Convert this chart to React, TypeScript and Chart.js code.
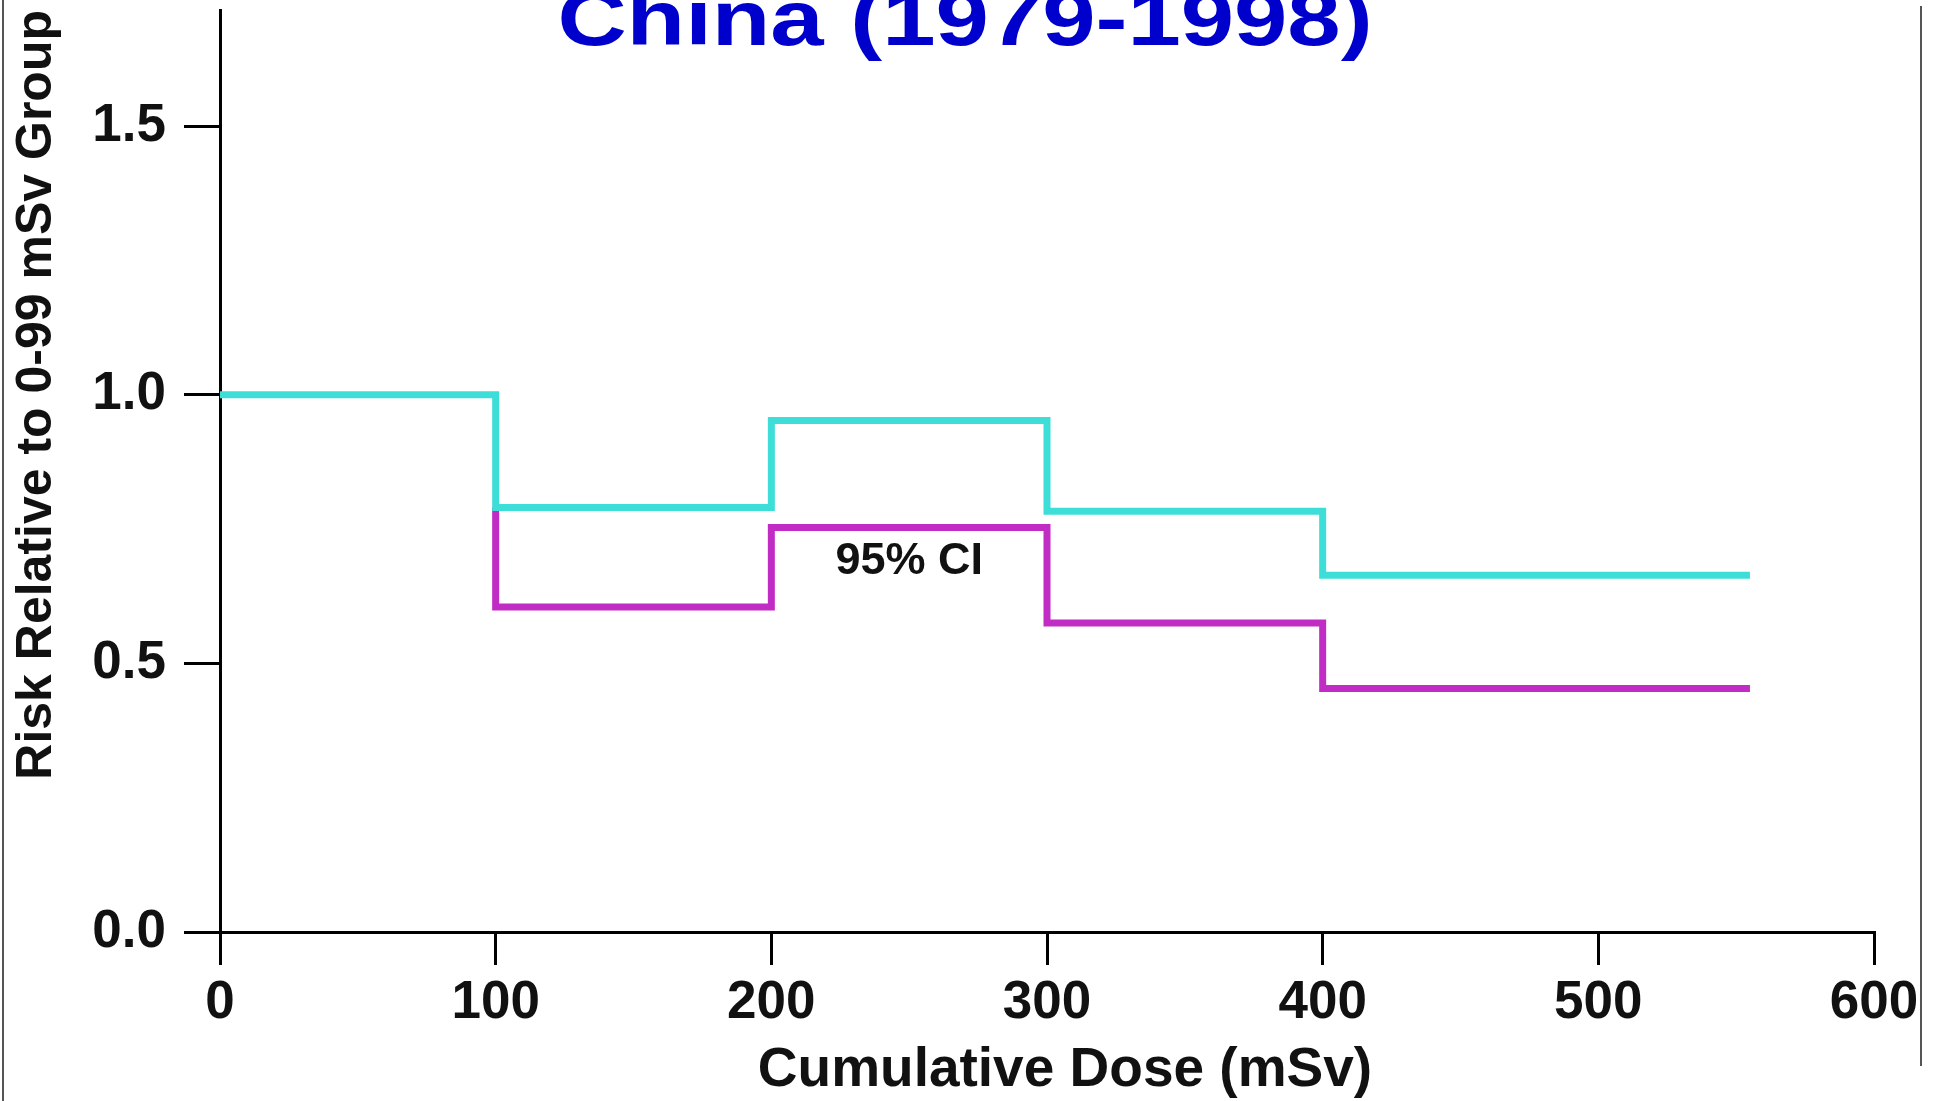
import React, { useEffect, useRef } from "react";
import { Chart, registerables } from "chart.js";

Chart.register(...registerables);

const TITLE = "China (1979-1998)";
const X_TITLE = "Cumulative Dose (mSv)";
const Y_TITLE = "Risk Relative to 0-99 mSv Group";
const CI_LABEL = "95% CI";

// Upper 95% CI bound (cyan), step starts
const upperX = [0, 100, 200, 300, 400, 555];
const upperY = [1.0, 0.79, 0.952, 0.783, 0.664, 0.664];
// Lower 95% CI bound (magenta), step starts
const lowerX = [100, 100, 200, 300, 400, 555];
const lowerY = [0.79, 0.605, 0.753, 0.575, 0.453, 0.453];

const yTickValues = [0, 0.5, 1.0, 1.5];
const xTickValues = [0, 100, 200, 300, 400, 500, 600];
const ciLabelX = 250;
const ciLabelY = 0.69;

const FONT = "'Liberation Sans', Arial, Helvetica, sans-serif";

const decorPlugin = {
  id: "decor",
  afterDraw(chart: any) {
    const ctx = chart.ctx;
    const xs = chart.scales.x;
    const ys = chart.scales.y;
    ctx.save();
    // scan edge lines
    ctx.strokeStyle = "#555";
    ctx.lineWidth = 2;
    ctx.beginPath();
    ctx.moveTo(3, 0);
    ctx.lineTo(3, 1101);
    ctx.moveTo(1921, 6);
    ctx.lineTo(1921, 1066);
    ctx.stroke();

    // title (partially cut off at top)
    ctx.fillStyle = "#0000CC";
    ctx.font = `bold 77px ${FONT}`;
    ctx.textAlign = "center";
    ctx.textBaseline = "alphabetic";
    ctx.translate(965, 45);
    ctx.scale(1.245, 1);
    ctx.fillText(TITLE, 0, 0);
    ctx.restore();

    ctx.save();
    // x axis title
    ctx.fillStyle = "#111";
    ctx.font = `bold 55px ${FONT}`;
    ctx.textAlign = "center";
    ctx.textBaseline = "alphabetic";
    ctx.fillText(X_TITLE, 1065, 1086);

    // CI label
    ctx.font = `bold 45px ${FONT}`;
    ctx.textBaseline = "middle";
    ctx.fillText(CI_LABEL, xs.getPixelForValue(ciLabelX), ys.getPixelForValue(ciLabelY));
    ctx.restore();
  },
};

export default function App() {
  const ref = useRef<HTMLCanvasElement | null>(null);

  useEffect(() => {
    if (!ref.current) return;
    const chart = new Chart(ref.current, {
      type: "line",
      data: {
        datasets: [
          {
            label: "Upper",
            data: upperX.map((x, i) => ({ x, y: upperY[i] })),
            borderColor: "#3EDED8",
            borderWidth: 7,
            stepped: "before",
            pointRadius: 0,
            fill: false,
            borderCapStyle: "butt",
            borderJoinStyle: "miter",
          },
          {
            label: "Lower",
            data: lowerX.map((x, i) => ({ x, y: lowerY[i] })),
            borderColor: "#C02CC4",
            borderWidth: 7,
            stepped: "before",
            pointRadius: 0,
            fill: false,
            borderCapStyle: "butt",
            borderJoinStyle: "miter",
          },
        ],
      },
      options: {
        responsive: false,
        animation: false,
        events: [],
        layout: { padding: { left: 0, right: 66, top: 10, bottom: 0 } },
        plugins: {
          legend: { display: false },
          title: { display: false },
          tooltip: { enabled: false },
        },
        scales: {
          x: {
            type: "linear",
            min: 0,
            max: 600,
            afterBuildTicks: (s: any) => {
              s.ticks = xTickValues.map((v) => ({ value: v }));
            },
            afterFit: (s: any) => {
              s.height = 169;
            },
            ticks: {
              color: "#111",
              font: { family: FONT, size: 53, weight: "bold" },
              padding: 7,
              maxRotation: 0,
              autoSkip: false,
            },
            grid: {
              display: true,
              drawOnChartArea: false,
              drawTicks: true,
              tickLength: 33,
              tickWidth: 3,
              tickColor: "#000",
              color: "#000",
              lineWidth: 3,
            },
            border: { display: true, color: "#000", width: 3 },
            title: { display: false },
          },
          y: {
            type: "linear",
            min: 0,
            max: 1.716,
            afterBuildTicks: (s: any) => {
              s.ticks = yTickValues.map((v) => ({ value: v }));
            },
            afterFit: (s: any) => {
              s.width = 220;
              s.paddingTop = 0;
              s.paddingBottom = 0;
            },
            ticks: {
              color: "#111",
              font: { family: FONT, size: 53, weight: "bold" },
              padding: 18,
              callback: (v: any) => Number(v).toFixed(1),
              autoSkip: false,
            },
            grid: {
              display: true,
              drawOnChartArea: false,
              drawTicks: true,
              tickLength: 36,
              tickWidth: 3,
              tickColor: "#000",
              color: "#000",
              lineWidth: 3,
            },
            border: { display: true, color: "#000", width: 3 },
            title: {
              display: true,
              text: Y_TITLE,
              align: "end",
              color: "#111",
              font: { family: FONT, size: 50, weight: "bold" },
              padding: { top: 7, bottom: 0 },
            },
          },
        },
      },
      plugins: [decorPlugin],
    } as any);
    return () => chart.destroy();
  }, []);

  return (
    <div style={{ position: "absolute", left: 0, top: 0, width: 1940, height: 1101, background: "#fff" }}>
      <canvas ref={ref} width={1940} height={1101} style={{ display: "block" }} />
    </div>
  );
}
